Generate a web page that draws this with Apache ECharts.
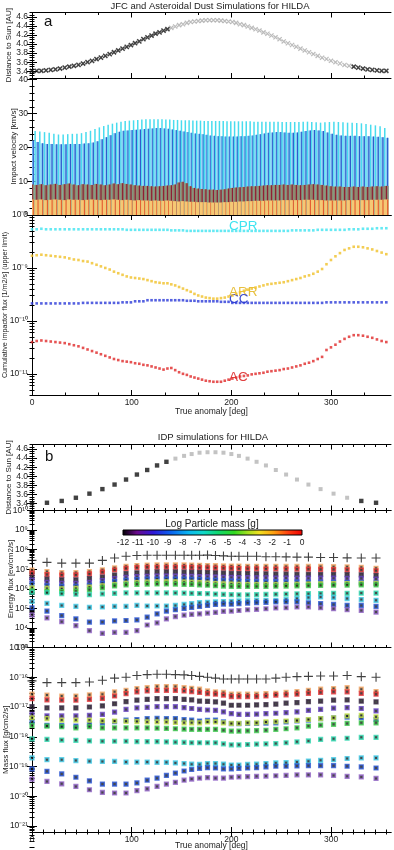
<!DOCTYPE html>
<html><head><meta charset="utf-8">
<script src="https://cdn.jsdelivr.net/npm/echarts@6/dist/echarts.min.js"></script>
<style>html,body{margin:0;padding:0;background:#fff}#c{width:394px;height:850px}</style>
</head><body><div id="c"></div>
<script>
// ---------------- Panel a data ----------------
const trueAnomalyA = [0,4.7,9.4,14.1,18.8,23.5,28.1,32.8,37.4,42,46.6,51.2,55.7,60.2,64.7,69.1,73.5,77.9,82.2,86.5,90.8,95,99.2,103.4,107.6,111.7,115.8,119.9,123.9,127.9,131.9,135.8,139.7,143.6,147.5,151.4,155.3,159.1,162.9,166.7,170.5,174.3,178.1,181.9,185.7,189.5,193.3,197.1,200.9,204.7,208.6,212.5,216.4,220.3,224.2,228.1,232.1,236.1,240.1,244.2,248.3,252.4,256.6,260.8,265,269.2,273.5,277.8,282.1,286.5,290.9,295.3,299.8,304.3,308.8,313.4,318,322.6,327.2,331.9,336.5,341.2,345.9,350.6,355.3];
const distanceA = [3.41,3.41,3.41,3.42,3.43,3.44,3.46,3.48,3.50,3.52,3.54,3.57,3.60,3.63,3.67,3.70,3.74,3.78,3.82,3.86,3.90,3.94,3.98,4.02,4.06,4.11,4.15,4.19,4.23,4.26,4.30,4.33,4.36,4.39,4.42,4.44,4.47,4.49,4.50,4.51,4.52,4.53,4.53,
4.53,4.53,4.52,4.51,4.50,4.49,4.47,4.44,4.42,4.39,4.36,4.33,4.30,4.26,4.23,4.19,4.15,4.11,4.06,4.02,3.98,3.94,3.90,3.86,3.82,3.78,3.74,3.70,3.67,3.63,3.60,3.57,3.54,3.52,3.50,3.48,3.46,3.44,3.43,3.42,3.41,3.41];
// impact velocity upper ends [km/s]
const velCPR = [25.0,24.8,24.7,24.5,24.3,24.0,23.8,23.8,23.9,24.0,24.0,24.2,24.5,24.9,25.4,25.9,26.3,26.7,27.0,27.3,27.6,27.8,27.9,28.0,28.1,28.2,28.3,28.3,28.3,28.3,28.3,28.2,28.2,28.1,28.1,28.0,28.0,28.0,27.9,27.9,27.9,27.8,27.8,27.8,27.8,27.8,27.8,27.7,27.7,27.7,27.7,27.7,27.7,27.7,27.6,27.6,27.6,27.6,27.6,27.6,27.6,27.5,27.5,27.5,27.5,27.5,27.6,27.6,27.5,27.4,27.3,27.4,27.5,27.6,27.5,27.4,27.3,27.3,27.2,27.1,26.9,26.7,26.5,26.2,25.7];
const velCC = [22.0,21.6,21.2,21.0,21.0,20.9,20.9,20.9,21.0,21.0,21.0,21.1,21.2,21.4,21.8,22.4,23.0,23.6,24.2,24.6,24.9,25.0,25.1,25.2,25.3,25.4,25.5,25.6,25.7,25.7,25.6,25.5,25.3,25.1,24.9,24.7,24.5,24.3,24.1,24.0,23.9,23.7,23.5,23.4,23.3,23.3,23.2,23.2,23.2,23.2,23.3,23.3,23.4,23.5,23.7,23.9,24.1,24.3,24.4,24.5,24.5,24.4,24.3,24.3,24.4,24.6,24.8,25.0,25.1,25.0,24.8,24.4,24.0,23.7,23.5,23.4,23.4,23.4,23.3,23.3,23.3,23.2,23.1,23.0,22.8];
const velAC = [9.0,8.9,9.1,8.8,9.0,9.2,8.9,9.1,9.3,9.0,8.8,9.1,9.0,8.9,9.2,9.0,8.8,9.0,9.3,9.1,9.4,9.2,9.0,8.8,8.7,8.6,8.6,8.5,8.4,8.5,8.6,8.7,8.8,9.0,9.6,9.8,9.4,8.5,8.0,7.8,7.7,7.6,7.5,7.5,7.4,7.5,7.6,7.8,8.0,8.1,8.2,8.3,8.4,8.5,8.5,8.6,8.7,8.8,8.8,8.9,8.9,9.0,8.9,9.0,8.9,8.8,8.9,9.0,9.1,9.0,8.9,8.7,8.5,8.4,8.4,8.3,8.3,8.4,8.3,8.4,8.3,8.4,8.5,8.4,8.6];
const velARR = [4.6,4.5,4.6,4.4,4.5,4.6,4.5,4.4,4.6,4.5,4.5,4.4,4.5,4.6,4.5,4.4,4.5,4.5,4.6,4.5,4.4,4.5,4.4,4.3,4.4,4.3,4.3,4.2,4.3,4.2,4.2,4.3,4.2,4.1,4.0,4.1,4.0,3.9,3.9,3.8,3.8,3.8,3.7,3.7,3.7,3.7,3.8,3.8,3.9,3.9,4.0,4.0,4.1,4.1,4.2,4.2,4.2,4.3,4.3,4.3,4.3,4.4,4.4,4.4,4.4,4.4,4.5,4.5,4.5,4.4,4.4,4.3,4.3,4.3,4.3,4.3,4.4,4.4,4.4,4.4,4.4,4.5,4.5,4.5,4.6];
// cumulative impactor flux, log10 of [1/m2/s]
const fluxCPRlog = [-8.27,-8.27,-8.26,-8.27,-8.27,-8.27,-8.27,-8.27,-8.27,-8.27,-8.27,-8.27,-8.27,-8.27,-8.27,-8.27,-8.27,-8.27,-8.27,-8.27,-8.27,-8.28,-8.28,-8.28,-8.28,-8.28,-8.28,-8.28,-8.28,-8.28,-8.28,-8.28,-8.29,-8.29,-8.29,-8.29,-8.30,-8.30,-8.30,-8.30,-8.30,-8.30,-8.30,-8.30,-8.30,-8.30,-8.30,-8.30,-8.30,-8.30,-8.30,-8.30,-8.30,-8.30,-8.30,-8.30,-8.30,-8.30,-8.30,-8.30,-8.30,-8.30,-8.30,-8.29,-8.29,-8.29,-8.29,-8.29,-8.29,-8.28,-8.28,-8.28,-8.28,-8.28,-8.28,-8.28,-8.27,-8.27,-8.27,-8.26,-8.26,-8.26,-8.25,-8.25,-8.25];
const fluxARRlog = [-8.77,-8.76,-8.75,-8.76,-8.77,-8.78,-8.79,-8.80,-8.82,-8.84,-8.85,-8.87,-8.88,-8.91,-8.94,-8.97,-9.00,-9.03,-9.07,-9.10,-9.13,-9.16,-9.18,-9.19,-9.20,-9.21,-9.23,-9.25,-9.27,-9.28,-9.29,-9.29,-9.31,-9.33,-9.36,-9.39,-9.42,-9.45,-9.49,-9.52,-9.54,-9.56,-9.57,-9.58,-9.58,-9.57,-9.56,-9.54,-9.52,-9.49,-9.46,-9.43,-9.41,-9.39,-9.37,-9.35,-9.33,-9.31,-9.30,-9.29,-9.28,-9.27,-9.25,-9.23,-9.21,-9.19,-9.16,-9.14,-9.11,-9.07,-9.02,-8.93,-8.85,-8.78,-8.72,-8.66,-8.63,-8.60,-8.60,-8.61,-8.63,-8.65,-8.68,-8.71,-8.74];
const fluxCClog = [-9.67,-9.67,-9.67,-9.67,-9.67,-9.67,-9.67,-9.67,-9.67,-9.67,-9.67,-9.66,-9.66,-9.66,-9.66,-9.66,-9.66,-9.66,-9.66,-9.66,-9.65,-9.65,-9.65,-9.63,-9.63,-9.63,-9.61,-9.61,-9.61,-9.61,-9.61,-9.61,-9.61,-9.61,-9.61,-9.61,-9.62,-9.62,-9.62,-9.63,-9.63,-9.63,-9.63,-9.63,-9.63,-9.64,-9.64,-9.64,-9.66,-9.66,-9.66,-9.66,-9.66,-9.66,-9.66,-9.66,-9.66,-9.66,-9.66,-9.66,-9.66,-9.66,-9.66,-9.66,-9.66,-9.66,-9.66,-9.66,-9.66,-9.66,-9.66,-9.65,-9.65,-9.65,-9.65,-9.65,-9.65,-9.65,-9.65,-9.65,-9.65,-9.65,-9.65,-9.65,-9.65];
const fluxAClog = [-10.40,-10.38,-10.37,-10.38,-10.39,-10.40,-10.41,-10.42,-10.44,-10.46,-10.48,-10.51,-10.54,-10.57,-10.60,-10.63,-10.66,-10.69,-10.72,-10.74,-10.76,-10.77,-10.78,-10.80,-10.81,-10.83,-10.84,-10.86,-10.88,-10.90,-10.92,-10.90,-10.89,-10.93,-10.97,-11.00,-11.02,-11.05,-11.07,-11.09,-11.11,-11.13,-11.14,-11.15,-11.15,-11.15,-11.13,-11.11,-11.09,-11.07,-11.05,-11.04,-11.03,-11.01,-11.00,-10.99,-10.98,-10.96,-10.95,-10.94,-10.93,-10.91,-10.90,-10.88,-10.86,-10.84,-10.81,-10.79,-10.76,-10.72,-10.68,-10.55,-10.50,-10.45,-10.39,-10.34,-10.30,-10.27,-10.27,-10.28,-10.30,-10.32,-10.35,-10.38,-10.40];
const fluxLabels = ['CPR','ARR','CC','AC'];

// ---------------- Panel b data ----------------
const trueAnomalyB = [0,15,29.8,44,57.6,70.6,82.8,94.3,105.2,115.5,125.4,134.8,143.8,152.5,160.1,168,176,184,192,199.9,207.5,216.2,225.2,234.6,244.5,254.8,265.7,277.2,289.4,302.4,316,330.2,345];
const distanceB = [3.41,3.42,3.46,3.53,3.62,3.72,3.82,3.93,4.04,4.14,4.24,4.32,4.39,4.45,4.49,4.52,4.53,4.53,4.52,4.49,4.45,4.39,4.32,4.24,4.14,4.04,3.93,3.82,3.72,3.62,3.53,3.46,3.42];
const massBinTicks = [-12,-11,-10,-9,-8,-7,-6,-5,-4,-3,-2,-1,0];
// energy flux, log10 of [eV/cm2/s]
const energyTotalLog = [7.45,7.35,7.31,7.31,7.31,7.45,7.57,7.66,7.70,7.71,7.71,7.71,7.71,7.71,7.71,7.71,7.72,7.70,7.68,7.66,7.66,7.66,7.66,7.64,7.64,7.63,7.62,7.62,7.60,7.60,7.58,7.57,7.57];
const energyOrangeLog = [6.95,6.88,6.83,6.83,6.88,6.97,7.07,7.15,7.19,7.21,7.22,7.22,7.22,7.22,7.21,7.20,7.19,7.18,7.17,7.16,7.16,7.15,7.15,7.15,7.15,7.14,7.14,7.14,7.14,7.13,7.12,7.10,7.05];
const energyRedLog = [6.80,6.73,6.70,6.71,6.76,6.85,6.96,7.04,7.08,7.10,7.10,7.10,7.10,7.10,7.09,7.08,7.07,7.06,7.05,7.04,7.03,7.02,7.02,7.01,7.01,7.00,7.00,7.00,6.99,6.98,6.97,6.96,6.92];
const energyBlackLog = [6.60,6.50,6.46,6.46,6.52,6.60,6.70,6.78,6.82,6.85,6.86,6.86,6.86,6.85,6.85,6.84,6.83,6.82,6.80,6.79,6.78,6.77,6.76,6.76,6.75,6.75,6.74,6.74,6.73,6.73,6.72,6.71,6.68];
const energyPurpleLog = [6.45,6.33,6.28,6.28,6.33,6.42,6.52,6.58,6.62,6.64,6.65,6.65,6.65,6.64,6.63,6.62,6.61,6.60,6.59,6.58,6.57,6.57,6.56,6.56,6.55,6.55,6.54,6.54,6.54,6.54,6.53,6.53,6.50];
const energyBlueLog = [6.25,6.15,6.12,6.13,6.18,6.28,6.37,6.43,6.47,6.49,6.50,6.50,6.50,6.49,6.48,6.47,6.45,6.43,6.41,6.39,6.38,6.37,6.36,6.35,6.35,6.34,6.34,6.33,6.33,6.33,6.32,6.31,6.29];
const energyYellowGreenLog = [6.05,6.02,6.00,6.02,6.08,6.15,6.22,6.28,6.32,6.34,6.35,6.35,6.35,6.34,6.33,6.31,6.29,6.27,6.25,6.24,6.23,6.22,6.22,6.22,6.22,6.22,6.23,6.24,6.25,6.26,6.27,6.28,6.28];
const energyGreenLog = [5.90,5.87,5.86,5.88,5.95,6.05,6.15,6.20,6.23,6.24,6.25,6.25,6.24,6.23,6.22,6.20,6.18,6.16,6.14,6.12,6.12,6.12,6.12,6.12,6.13,6.14,6.15,6.16,6.17,6.18,6.19,6.20,6.20];
const energyCyanGreenLog = [5.83,5.80,5.75,5.72,5.70,5.74,5.77,5.79,5.79,5.79,5.79,5.79,5.79,5.78,5.77,5.76,5.75,5.73,5.71,5.70,5.69,5.69,5.70,5.71,5.72,5.73,5.74,5.75,5.76,5.77,5.77,5.78,5.78];
const energyCyanLog = [5.35,5.25,5.15,5.10,5.05,5.07,5.10,5.10,5.15,5.12,5.12,5.12,5.15,5.20,5.24,5.29,5.31,5.33,5.35,5.36,5.38,5.39,5.41,5.41,5.41,5.45,5.50,5.55,5.58,5.55,5.50,5.45,5.41];
const energyBlueLowLog = [5.03,4.86,4.63,4.46,4.30,4.30,4.36,4.38,4.41,4.55,4.72,4.86,4.93,5.00,5.05,5.10,5.15,5.20,5.22,5.21,5.24,5.27,5.29,5.31,5.33,5.33,5.33,5.28,5.24,5.20,5.15,5.15,5.10];
const energyPurpleLowLog = [4.67,4.51,4.32,4.12,3.86,3.72,3.77,3.77,3.86,4.15,4.26,4.46,4.58,4.65,4.69,4.72,4.76,4.79,4.85,4.86,4.89,4.93,4.95,4.98,5.02,5.03,5.07,5.07,5.03,4.98,4.93,4.89,4.81];
// mass flux, log10 of [g/cm2/s]
const massTotalLog = [-16.12,-16.18,-16.18,-16.18,-16.16,-16.10,-16.03,-16.00,-15.94,-15.91,-15.90,-15.90,-15.91,-15.92,-15.94,-15.97,-16.00,-16.03,-16.06,-16.06,-16.06,-16.06,-16.06,-16.06,-16.03,-16.00,-15.98,-15.97,-15.96,-15.96,-15.94,-15.98,-16.00];
const massOrangeLog = [-16.57,-16.60,-16.63,-16.63,-16.59,-16.57,-16.49,-16.44,-16.38,-16.35,-16.31,-16.31,-16.31,-16.35,-16.37,-16.40,-16.46,-16.49,-16.51,-16.57,-16.57,-16.57,-16.57,-16.55,-16.54,-16.51,-16.48,-16.44,-16.40,-16.38,-16.35,-16.40,-16.48];
const massRedLog = [-16.72,-16.76,-16.77,-16.77,-16.74,-16.71,-16.63,-16.55,-16.49,-16.46,-16.44,-16.44,-16.44,-16.46,-16.48,-16.51,-16.55,-16.57,-16.60,-16.65,-16.65,-16.65,-16.65,-16.63,-16.60,-16.59,-16.57,-16.54,-16.51,-16.49,-16.49,-16.54,-16.57];
const massBlackLog = [-16.99,-17.03,-17.03,-17.03,-17.00,-16.96,-16.89,-16.82,-16.77,-16.74,-16.72,-16.72,-16.72,-16.74,-16.76,-16.80,-16.81,-16.83,-16.87,-16.94,-16.94,-16.94,-16.93,-16.92,-16.90,-16.87,-16.85,-16.82,-16.80,-16.77,-16.76,-16.80,-16.83];
const massPurpleLog = [-17.25,-17.30,-17.30,-17.30,-17.28,-17.25,-17.17,-17.08,-17.03,-17.01,-16.99,-16.99,-16.99,-17.02,-17.05,-17.08,-17.10,-17.11,-17.16,-17.22,-17.25,-17.25,-17.24,-17.22,-17.21,-17.19,-17.16,-17.11,-17.08,-17.04,-17.02,-17.05,-17.13];
const massBlueLog = [-17.50,-17.62,-17.62,-17.64,-17.58,-17.53,-17.49,-17.44,-17.42,-17.39,-17.38,-17.39,-17.39,-17.42,-17.44,-17.47,-17.45,-17.44,-17.50,-17.56,-17.56,-17.55,-17.55,-17.54,-17.53,-17.50,-17.47,-17.44,-17.39,-17.36,-17.34,-17.36,-17.42];
const massYellowGreenLog = [-17.36,-17.39,-17.44,-17.44,-17.44,-17.46,-17.47,-17.48,-17.49,-17.50,-17.50,-17.50,-17.52,-17.53,-17.53,-17.53,-17.50,-17.50,-17.53,-17.55,-17.55,-17.53,-17.53,-17.50,-17.49,-17.47,-17.45,-17.42,-17.39,-17.36,-17.30,-17.28,-17.33];
const massGreenLog = [-17.62,-17.64,-17.66,-17.70,-17.66,-17.70,-17.70,-17.70,-17.70,-17.70,-17.71,-17.72,-17.73,-17.74,-17.75,-17.75,-17.75,-17.75,-17.78,-17.81,-17.81,-17.80,-17.79,-17.78,-17.75,-17.73,-17.70,-17.64,-17.61,-17.58,-17.55,-17.53,-17.53];
const massCyanGreenLog = [-18.07,-18.09,-18.11,-18.12,-18.14,-18.15,-18.15,-18.15,-18.16,-18.16,-18.16,-18.17,-18.18,-18.19,-18.20,-18.20,-18.20,-18.20,-18.24,-18.27,-18.27,-18.26,-18.25,-18.24,-18.23,-18.20,-18.17,-18.14,-18.09,-18.07,-18.05,-18.02,-18.02];
const massCyanLog = [-18.71,-18.77,-18.77,-18.80,-18.82,-18.83,-18.83,-18.85,-18.85,-18.85,-18.86,-18.86,-18.88,-18.90,-18.92,-18.93,-18.90,-18.90,-18.92,-18.95,-18.95,-18.93,-18.92,-18.90,-18.88,-18.87,-18.85,-18.82,-18.79,-18.77,-18.73,-18.71,-18.71];
const massBlueLowLog = [-19.08,-19.16,-19.25,-19.36,-19.48,-19.59,-19.59,-19.59,-19.55,-19.46,-19.39,-19.30,-19.22,-19.15,-19.10,-19.06,-19.04,-19.05,-19.08,-19.08,-19.06,-19.05,-19.04,-19.01,-18.99,-18.99,-18.98,-18.97,-18.97,-18.97,-18.99,-19.01,-19.05];
const massPurpleLowLog = [-19.42,-19.50,-19.58,-19.67,-19.78,-19.87,-19.89,-19.89,-19.81,-19.75,-19.67,-19.59,-19.53,-19.46,-19.42,-19.39,-19.37,-19.39,-19.39,-19.36,-19.35,-19.34,-19.33,-19.32,-19.31,-19.30,-19.28,-19.28,-19.28,-19.30,-19.33,-19.35,-19.40];

// ---------------- build ----------------
const FONT = 'Liberation Sans';
const TXT = '#222';
const SUP = {'-':'\u207B','0':'\u2070','1':'\u00B9','2':'\u00B2','3':'\u00B3','4':'\u2074','5':'\u2075','6':'\u2076','7':'\u2077','8':'\u2078','9':'\u2079'};
const p10 = v => Math.pow(10, v);
const logLabel = v => '10' + String(Math.round(Math.log10(v))).split('').map(c => SUP[c]).join('');
const decades = (lo, hi) => { const r = []; for (let e = lo; e <= hi; e++) r.push(p10(e)); return r; };
const logMinors = (lo, hi) => { const r = []; for (let e = lo; e < hi; e++) for (let m = 2; m <= 9; m++) r.push(m * p10(e)); return r; };
const steps = (a, b, s) => { const r = []; for (let v = a; v <= b + 1e-9; v += s) r.push(+v.toFixed(4)); return r; };

const L = 32, W = 359;
const grids = [
  {left: L, width: W, top: 12.5, height: 65.5},   // 0 distance a
  {left: L, width: W, top: 78, height: 137},      // 1 velocity
  {left: L, width: W, top: 215, height: 180},     // 2 flux
  {left: L, width: W, top: 444.5, height: 66},    // 3 distance b
  {left: L, width: W, top: 510.5, height: 137},   // 4 energy
  {left: L, width: W, top: 647.5, height: 184.5}, // 5 mass
  {left: 123, width: 179, top: 530, height: 5}    // 6 colour bar
];
const xAxes = [], yAxes = [];
const black = {color: '#000', width: 1};
const lbl = (extra) => Object.assign({fontFamily: FONT, fontSize: 8.5, color: TXT}, extra || {});

function addAxes(g, xcfg, ycfg) {
  const res = {x: xAxes.length, y: yAxes.length};
  xAxes.push({gridIndex: g, type: 'value', min: 0, max: 360, position: 'bottom',
    name: xcfg.name || '', nameLocation: 'middle', nameGap: xcfg.nameGap || 15, nameMoveOverlap: false,
    nameTextStyle: {fontFamily: FONT, fontSize: 8.5, color: TXT},
    axisLine: {show: true, lineStyle: black},
    axisTick: {show: true, inside: true, length: 5, lineStyle: black, customValues: [0, 100, 200, 300]},
    axisLabel: lbl({show: !!xcfg.labels, customValues: [0, 100, 200, 300], margin: 3}),
    splitLine: {show: false}});
  const xminor = {gridIndex: g, type: 'value', min: 0, max: 360, splitLine: {show: false},
    axisLine: {show: false}, axisLabel: {show: false},
    axisTick: {show: true, inside: true, length: 2.5, lineStyle: black, customValues: xcfg.minor}};
  xAxes.push(Object.assign({}, xminor, {position: 'bottom'}));
  xAxes.push({gridIndex: g, type: 'value', min: 0, max: 360, position: 'top', splitLine: {show: false},
    axisLine: {show: true, lineStyle: black}, axisLabel: {show: false},
    axisTick: {show: true, inside: true, length: 5, lineStyle: black, customValues: [0, 100, 200, 300]}});
  xAxes.push(Object.assign({}, xminor, {position: 'top'}));
  const ybase = {gridIndex: g, type: ycfg.type, min: ycfg.min, max: ycfg.max, splitLine: {show: false}};
  yAxes.push(Object.assign({}, ybase, {position: 'left',
    name: ycfg.name, nameLocation: 'middle', nameGap: ycfg.nameGap, nameRotate: 90, nameMoveOverlap: false,
    nameTextStyle: {fontFamily: FONT, fontSize: ycfg.nameSize || 8, color: TXT},
    axisLine: {show: true, lineStyle: black},
    axisTick: {show: true, inside: true, length: 5, lineStyle: black, customValues: ycfg.major},
    axisLabel: lbl({show: true, customValues: ycfg.major, margin: 4, formatter: ycfg.fmt})}));
  const yminor = Object.assign({}, ybase, {axisLine: {show: false}, axisLabel: {show: false},
    axisTick: {show: true, inside: true, length: 2.5, lineStyle: black, customValues: ycfg.minor}});
  yAxes.push(Object.assign({}, yminor, {position: 'left'}));
  yAxes.push(Object.assign({}, ybase, {position: 'right', axisLine: {show: true, lineStyle: black}, axisLabel: {show: false},
    axisTick: {show: true, inside: true, length: 5, lineStyle: black, customValues: ycfg.major}}));
  yAxes.push(Object.assign({}, yminor, {position: 'right'}));
  return res;
}
const xMinorA = steps(0, 360, 100 / 3);
const xMinorB = steps(0, 360, 100 / 9);
const distFmt = v => v.toFixed(1);
const aDist = addAxes(0, {minor: xMinorA}, {type: 'value', min: 3.25, max: 4.7, major: steps(3.4, 4.6, 0.2), minor: steps(3.25, 4.7, 0.05), name: 'Distance to Sun [AU]', nameGap: 19, fmt: distFmt});
const aVel = addAxes(1, {minor: xMinorA}, {type: 'value', min: 0, max: 40.5, major: [0, 10, 20, 30, 40], minor: steps(0, 40, 2), name: 'Impact velocity [km/s]', nameGap: 14.5});
const aFlux = addAxes(2, {minor: xMinorA, labels: true, name: 'True anomaly [deg]', nameGap: 12}, {type: 'log', min: p10(-11.4), max: 1e-8, major: decades(-11, -8), minor: logMinors(-12, -8), name: 'Cumulative impactor flux [1/m2/s] (upper limit)', nameGap: 23, nameSize: 7.2, fmt: logLabel});
const bDist = addAxes(3, {minor: xMinorB}, {type: 'value', min: 3.25, max: 4.7, major: steps(3.4, 4.6, 0.2), minor: steps(3.25, 4.7, 0.05), name: 'Distance to Sun [AU]', nameGap: 19, fmt: distFmt});
const bEn = addAxes(4, {minor: xMinorB}, {type: 'log', min: 1e3, max: 1e10, major: decades(3, 10), minor: logMinors(3, 10), name: 'Energy flux [ev/cm2/s]', nameGap: 17, fmt: logLabel});
const bMass = addAxes(5, {minor: xMinorB, labels: true, name: 'True anomaly [deg]', nameGap: 9}, {type: 'log', min: p10(-21.2), max: 1e-15, major: decades(-21, -15), minor: logMinors(-22, -15), name: 'Mass flux [g/cm2/s]', nameGap: 22, fmt: logLabel});
const cbX = xAxes.length;
xAxes.push({gridIndex: 6, type: 'value', min: -12, max: 0, interval: 1, position: 'bottom',
  axisLine: {show: false}, axisTick: {show: false}, splitLine: {show: false},
  axisLabel: lbl({fontSize: 8.5, margin: 3, customValues: massBinTicks})});
const cbY = yAxes.length;
yAxes.push({gridIndex: 6, type: 'value', min: 0, max: 1, show: false});

const series = [];
const xy = (xs, ys, f) => xs.map((x, i) => [x, f ? f(ys[i]) : ys[i]]);
const crossX = 'path://M0,0L10,10M10,0L0,10';
const plus = 'path://M0,5L10,5M5,0L5,10';

const darkA = a => a < 137 || a > 322;
const distPts = xy(trueAnomalyA, distanceA);
series.push({type: 'scatter', xAxisIndex: aDist.x, yAxisIndex: aDist.y, symbol: crossX, symbolSize: 4.2,
  itemStyle: {color: 'transparent', borderColor: '#aaaaaa', borderWidth: 1.2}, data: distPts.filter(p => !darkA(p[0])), silent: true});
series.push({type: 'scatter', xAxisIndex: aDist.x, yAxisIndex: aDist.y, symbol: crossX, symbolSize: 4.2,
  itemStyle: {color: 'transparent', borderColor: '#111', borderWidth: 1.5}, data: distPts.filter(p => darkA(p[0])), silent: true});

const velData = trueAnomalyA.map((a, i) => [a, velCPR[i], velCC[i], velAC[i], velARR[i]]);
series.push({type: 'custom', xAxisIndex: aVel.x, yAxisIndex: aVel.y, clip: true, silent: true, data: velData,
  encode: {x: 0, y: [1, 2, 3, 4]},
  renderItem: function (params, api) {
    const a = api.value(0);
    const p0 = api.coord([a, 0]);
    const cx = p0[0], y0 = p0[1];
    const yc = api.coord([a, api.value(1)])[1];
    const yb = api.coord([a, api.value(2)])[1];
    const ya = api.coord([a, api.value(3)])[1];
    const yr = api.coord([a, api.value(4)])[1];
    const R = (x, y, w, c) => ({type: 'rect', shape: {x: x, y: y, width: w, height: y0 - y}, style: {fill: c}});
    return {type: 'group', children: [
      R(cx - 2.3, yc, 1.5, '#48dcee'),
      R(cx - 0.8, yb, 3.1, '#86ccf4'),
      R(cx + 0.7, yb, 1.2, '#2f5ccc'),
      R(cx - 2.3, ya, 4.6, '#8f8a6e'),
      R(cx - 0.5, ya, 1.2, '#8e1e36'),
      R(cx - 2.3, yr, 4.6, '#f5c874'),
      R(cx + 0.8, yr, 1.1, '#e4582e')
    ]};
  }});

const fluxSets = [[fluxCPRlog, '#3ee4f0'], [fluxARRlog, '#f0c028'], [fluxCClog, '#2a3ad8'], [fluxAClog, '#e02828']];
fluxSets.forEach((s, k) => series.push({type: 'scatter', name: fluxLabels[k], xAxisIndex: aFlux.x, yAxisIndex: aFlux.y,
  symbol: 'rect', symbolSize: 2.6, itemStyle: {color: s[1]}, data: xy(trueAnomalyA, s[0], p10), silent: true}));

const darkB = a => a < 140 || a > 325;
const distBPts = xy(trueAnomalyB, distanceB);
series.push({type: 'scatter', xAxisIndex: bDist.x, yAxisIndex: bDist.y, symbol: 'rect', symbolSize: 4,
  itemStyle: {color: '#b4b4b4'}, data: distBPts.filter(p => !darkB(p[0])), silent: true});
series.push({type: 'scatter', xAxisIndex: bDist.x, yAxisIndex: bDist.y, symbol: 'rect', symbolSize: 4.4,
  itemStyle: {color: '#111'}, data: distBPts.filter(p => darkB(p[0])), silent: true});

const idpColors = ['#f6aa6a', '#e8383c', '#3a2a44', '#6a46c4', '#2c64d4', '#c4e44c', '#40cc50', '#34dcb4', '#44cce8', '#2c58d4', '#9466c8'];
const energySets = [energyOrangeLog, energyRedLog, energyBlackLog, energyPurpleLog, energyBlueLog, energyYellowGreenLog, energyGreenLog, energyCyanGreenLog, energyCyanLog, energyBlueLowLog, energyPurpleLowLog];
const massSets = [massOrangeLog, massRedLog, massBlackLog, massPurpleLog, massBlueLog, massYellowGreenLog, massGreenLog, massCyanGreenLog, massCyanLog, massBlueLowLog, massPurpleLowLog];
const sq = c => ({color: '#1a1a1a', borderColor: c, borderWidth: 1.6});
energySets.forEach((s, k) => series.push({type: 'scatter', xAxisIndex: bEn.x, yAxisIndex: bEn.y, symbol: 'rect', symbolSize: 3.6,
  itemStyle: sq(idpColors[k]), data: xy(trueAnomalyB, s, p10), silent: true}));
massSets.forEach((s, k) => series.push({type: 'scatter', xAxisIndex: bMass.x, yAxisIndex: bMass.y, symbol: 'rect', symbolSize: 3.6,
  itemStyle: sq(idpColors[k]), data: xy(trueAnomalyB, s, p10), silent: true}));
series.push({type: 'scatter', xAxisIndex: bEn.x, yAxisIndex: bEn.y, symbol: plus, symbolSize: 9,
  itemStyle: {color: 'transparent', borderColor: '#111', borderWidth: 1.1}, data: xy(trueAnomalyB, energyTotalLog, p10), silent: true});
series.push({type: 'scatter', xAxisIndex: bMass.x, yAxisIndex: bMass.y, symbol: plus, symbolSize: 9,
  itemStyle: {color: 'transparent', borderColor: '#111', borderWidth: 1.1}, data: xy(trueAnomalyB, massTotalLog, p10), silent: true});
series.push({type: 'scatter', xAxisIndex: cbX, yAxisIndex: cbY, data: [], silent: true});

const gtext = (x, y, t, size, color, align) => ({type: 'text', x: x, y: y, silent: true,
  style: {text: t, fontFamily: FONT, fontSize: size, fill: color || TXT, align: align || 'left', verticalAlign: 'middle'}});

const chart = echarts.init(document.getElementById('c'), null, {renderer: 'canvas'});
chart.setOption({
  animation: false,
  backgroundColor: '#fff',
  grid: grids.map(g => Object.assign({outerBoundsMode: 'none'}, g)),
  xAxis: xAxes,
  yAxis: yAxes,
  series: series,
  graphic: [
    gtext(210, 6, 'JFC and Asteroidal Dust Simulations for HILDA', 9.5, TXT, 'center'),
    gtext(213, 437, 'IDP simulations for HILDA', 9.5, TXT, 'center'),
    gtext(44, 22, 'a', 15, '#111'),
    gtext(45, 457, 'b', 15, '#111'),
    gtext(229, 226, fluxLabels[0], 13.5, '#3ee4f0'),
    gtext(229, 292, fluxLabels[1], 13.5, '#e8c040'),
    gtext(229, 299, fluxLabels[2], 13.5, '#3a4ad0'),
    gtext(229, 377, fluxLabels[3], 13.5, '#e04040'),
    gtext(212, 524, 'Log Particle mass [g]', 10, TXT, 'center'),
    {type: 'rect', silent: true, shape: {x: 123, y: 530, width: 179, height: 5},
      style: {stroke: '#000', lineWidth: 1, fill: new echarts.graphic.LinearGradient(0, 0, 1, 0, [
        {offset: 0, color: '#000000'}, {offset: 0.08, color: '#6a0a8c'}, {offset: 0.17, color: '#3018d8'},
        {offset: 0.27, color: '#0a64f0'}, {offset: 0.37, color: '#0ab8f0'}, {offset: 0.45, color: '#10d8c8'},
        {offset: 0.53, color: '#10d870'}, {offset: 0.62, color: '#30d820'}, {offset: 0.70, color: '#a8e020'},
        {offset: 0.76, color: '#f0e020'}, {offset: 0.84, color: '#ffa010'}, {offset: 0.92, color: '#ff4010'},
        {offset: 1, color: '#ee0000'}])}}
  ]
});
</script></body></html>
